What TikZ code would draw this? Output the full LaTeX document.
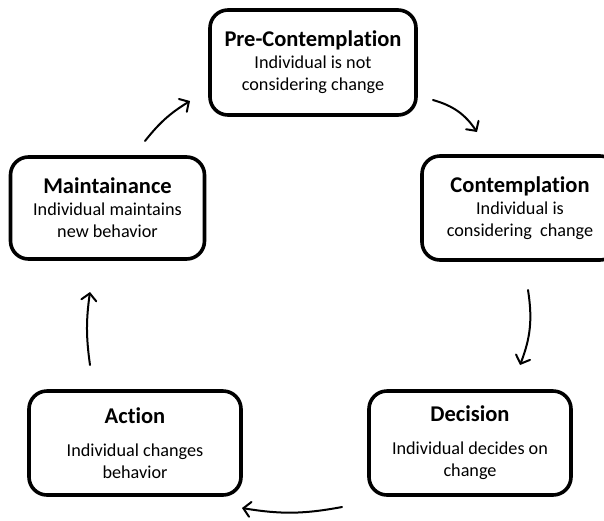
\documentclass[tikz,border=0pt]{standalone}
\usepackage{fontspec}
\setmainfont{Carlito}[Ligatures=NoCommon]
\usetikzlibrary{arrows.meta}
\newcommand\stagetitle[1]{{\fontsize{22.5}{25}\selectfont\bfseries #1}}
\begin{document}
\begin{tikzpicture}[x=1pt,y=-1pt,
  stage/.style={draw, line width=3.6pt, rounded corners=18pt, align=center,
    inner sep=0pt, font=\fontsize{18.2}{22}\selectfont},
  cyc/.style={line width=2pt, line cap=round,
    -{Straight Barb[length=7pt,width=15pt,line cap=round]}}]
  \clip (0,0) rectangle (604,520);
  \useasboundingbox (0,0) rectangle (604,520);

  % the five stages
  \node[stage, minimum width=206pt, minimum height=105pt] (pre) at (313,62.5)
    {\stagetitle{Pre-Contemplation}\\Individual is not\\considering change};
  \node[stage, minimum width=196pt, minimum height=104pt] (con) at (520,208)
    {\stagetitle{Contemplation}\\Individual is\\considering\ \ change};
  \node[stage, minimum width=202pt, minimum height=104pt] (dec) at (470,443)
    {\stagetitle{Decision}\\[11pt]Individual decides on\\change};
  \node[stage, minimum width=212pt, minimum height=104pt] (act) at (135,443)
    {\stagetitle{Action}\\[11pt]Individual changes\\behavior};
  \node[stage, minimum width=194pt, minimum height=102pt] (mai) at (107.5,208)
    {\stagetitle{Maintainance}\\Individual maintains\\new behavior};

  % arrow end points between the stages
  \coordinate (m1) at (145,141);  \coordinate (p0) at (190,101);
  \coordinate (p1) at (433,100);  \coordinate (c0) at (477,132);
  \coordinate (c1) at (528,290);  \coordinate (d0) at (520,365);
  \coordinate (d1) at (342,507);  \coordinate (a0) at (242,508);
  \coordinate (a1) at (90,365);   \coordinate (m0) at (90,292);

  \draw[cyc] (m1) to[bend left=10] (p0);
  \draw[cyc] (p1) to[bend left=20] (c0);
  \draw[cyc] (c1) to[bend left=15] (d0);
  \draw[cyc] (d1) to[bend left=10] (a0);
  \draw[cyc] (a1) to[bend left=8] (m0);
\end{tikzpicture}
\end{document}
